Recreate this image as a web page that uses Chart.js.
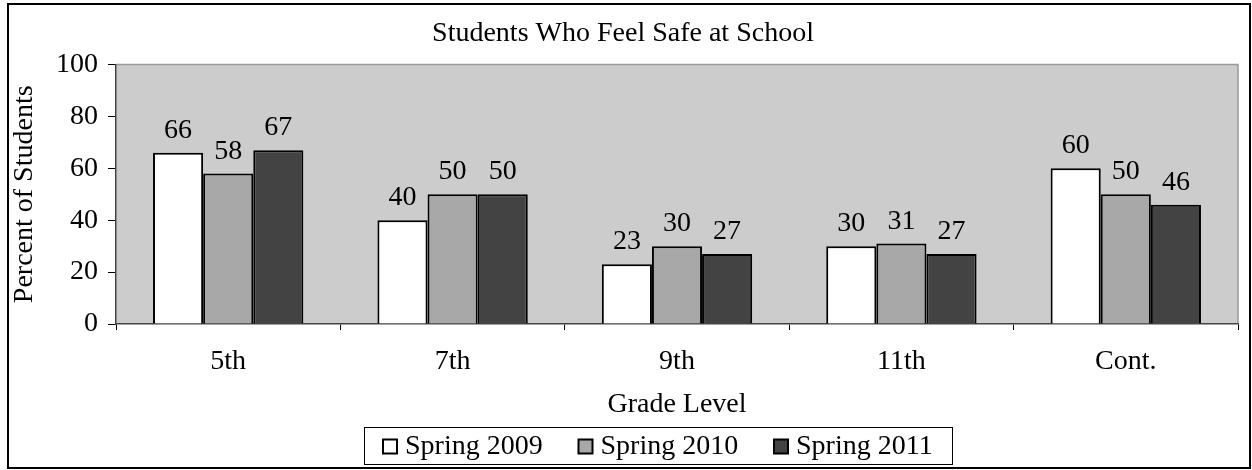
<!DOCTYPE html>
<html>
<head>
<meta charset="utf-8">
<script src="https://cdn.jsdelivr.net/npm/chart.js@4"></script>
<style>
  body { margin: 0; background: #fff; }
  #wrap { width: 1252px; height: 470px; }
</style>
</head>
<body>
<div id="wrap"><canvas id="myChart" width="1252" height="470"></canvas></div>
<script>
const grades = ["5th", "7th", "9th", "11th", "Cont."];
const spring2009 = [66, 40, 23, 30, 60];
const spring2010 = [58, 50, 30, 31, 50];
const spring2011 = [67, 50, 27, 27, 46];
const yTicks = [0, 20, 40, 60, 80, 100];

const FONT = "'Liberation Serif', 'Times New Roman', serif";
const FS = 28;

// gray plot background + frame around the whole chart
const backdrop = {
  id: "backdrop",
  beforeDraw(chart) {
    const { ctx, chartArea: a } = chart;
    ctx.save();
    ctx.fillStyle = "#fff";
    ctx.fillRect(0, 0, chart.width, chart.height);
    ctx.fillStyle = "#cccccc";
    ctx.fillRect(a.left, a.top, a.right - a.left, a.bottom - a.top);
    ctx.strokeStyle = "#999";
    ctx.lineWidth = 1.5;
    ctx.beginPath();
    ctx.moveTo(a.left, a.top);
    ctx.lineTo(a.right, a.top);
    ctx.lineTo(a.right, a.bottom);
    ctx.stroke();
    ctx.strokeStyle = "#000";
    ctx.lineWidth = 2;
    ctx.strokeRect(8, 4, 1242, 464);
    ctx.restore();
  },
};

// value labels above the bars
const valueLabels = {
  id: "valueLabels",
  afterDatasetsDraw(chart) {
    const ctx = chart.ctx;
    ctx.save();
    ctx.font = FS + "px " + FONT;
    ctx.fillStyle = "#000";
    ctx.textAlign = "center";
    ctx.textBaseline = "alphabetic";
    chart.data.datasets.forEach((ds, i) => {
      chart.getDatasetMeta(i).data.forEach((bar, j) => {
        ctx.fillText(ds.data[j], bar.x, bar.y - 15);
      });
    });
    ctx.restore();
  },
};

// boxed legend at the bottom
const boxLegend = {
  id: "boxLegend",
  afterDraw(chart) {
    const ctx = chart.ctx;
    const top = 427, bottom = 464, left = 364, right = 952;
    ctx.save();
    ctx.strokeStyle = "#000";
    ctx.lineWidth = 1;
    ctx.strokeRect(left + 0.5, top + 0.5, right - left, bottom - top);
    ctx.font = FS + "px " + FONT;
    ctx.textBaseline = "middle";
    ctx.textAlign = "left";
    chart.data.datasets.forEach((ds, i) => {
      const x = 383 + i * 195.5;
      const cy = (top + bottom) / 2 + 1;
      ctx.fillStyle = ds.backgroundColor;
      ctx.fillRect(x, cy - 7, 14, 14);
      ctx.lineWidth = 2;
      ctx.strokeRect(x, cy - 7, 14, 14);
      ctx.fillStyle = "#000";
      ctx.fillText(ds.label, x + 22, cy);
    });
    ctx.restore();
  },
};

const ctx = document.getElementById("myChart").getContext("2d");
const myChart = new Chart(ctx, {
  type: "bar",
  data: {
    labels: grades,
    datasets: [
      { label: "Spring 2009", data: spring2009, backgroundColor: "#ffffff" },
      { label: "Spring 2010", data: spring2010, backgroundColor: "#a8a8a8" },
      { label: "Spring 2011", data: spring2011, backgroundColor: "#434343" },
    ].map((d) => ({
      ...d,
      borderColor: "#000",
      borderWidth: 2,
      categoryPercentage: 0.67,
      barPercentage: 1.0,
    })),
  },
  options: {
    responsive: false,
    animation: false,
    layout: { padding: { left: 8, right: 14, top: 4, bottom: 43 } },
    plugins: {
      legend: { display: false },
      tooltip: { enabled: false },
      title: {
        display: true,
        text: "Students Who Feel Safe at School",
        color: "#000",
        font: { family: FONT, size: FS, weight: "normal" },
        padding: { top: 13, bottom: 14 },
      },
    },
    scales: {
      x: {
        grid: {
          display: true,
          drawOnChartArea: false,
          offset: true,
          tickLength: 6,
          color: "#000",
        },
        border: { color: "#444", width: 1.5 },
        ticks: {
          color: "#000",
          font: { family: FONT, size: FS },
          padding: 15,
        },
        title: {
          display: true,
          text: "Grade Level",
          color: "#000",
          font: { family: FONT, size: FS },
          padding: { top: 0, bottom: 6 },
        },
        afterFit(scale) {
          scale.height = 103;
        },
      },
      y: {
        min: 0,
        max: 100,
        afterBuildTicks(scale) {
          scale.ticks = yTicks.map((v) => ({ value: v }));
        },
        grid: {
          display: true,
          drawOnChartArea: false,
          tickLength: 8,
          color: "#000",
        },
        border: { color: "#444", width: 1.5 },
        ticks: {
          color: "#000",
          font: { family: FONT, size: FS },
          padding: 10,
        },
        title: {
          display: true,
          text: "Percent of Students",
          color: "#000",
          font: { family: FONT, size: FS },
          padding: { top: 0, bottom: 0 },
        },
        afterFit(scale) {
          scale.width = 108;
        },
      },
    },
  },
  plugins: [backdrop, valueLabels, boxLegend],
});
</script>
</body>
</html>
